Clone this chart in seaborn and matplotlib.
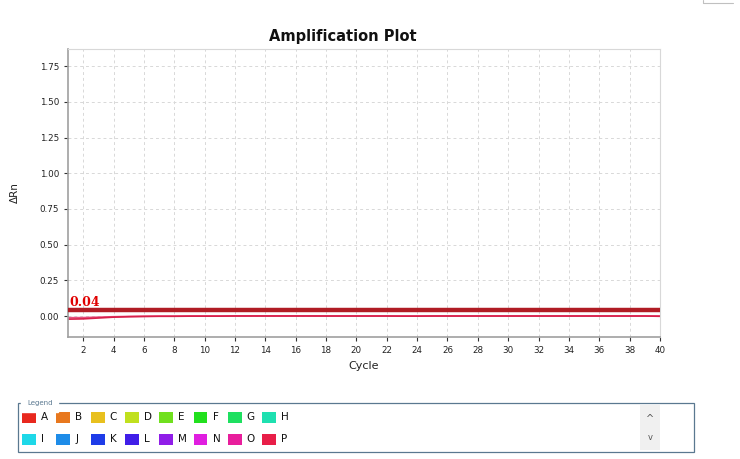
import numpy as np
import pandas as pd
import matplotlib
matplotlib.use("Agg")
import matplotlib.pyplot as plt
from matplotlib.patches import Rectangle
from matplotlib.lines import Line2D
import seaborn as sns

cycles = list(range(1, 41))
well_o = [-0.012, -0.011, -0.008, -0.005, -0.003, -0.002, -0.001, -0.001, 0.000, 0.000,
          0.000, 0.001, 0.001, 0.001, 0.001, 0.001, 0.001, 0.000, 0.000, 0.000,
          0.000, 0.000, 0.000, 0.000, 0.000, 0.000, 0.000, 0.000, 0.000, 0.000,
          0.000, 0.000, 0.000, 0.000, 0.000, 0.000, 0.000, 0.000, 0.000, 0.000]
well_p = [-0.022, -0.020, -0.014, -0.008, -0.005, -0.003, -0.002, -0.002, -0.001, -0.001,
          -0.001, 0.000, 0.000, 0.000, 0.000, 0.000, 0.000, 0.000, 0.000, 0.000,
          0.000, 0.000, -0.001, -0.001, 0.000, 0.000, 0.000, 0.000, 0.000, 0.000,
          0.000, 0.000, 0.000, 0.000, 0.000, 0.000, 0.000, 0.000, 0.000, -0.002]
threshold = 0.04

legend_labels = list("ABCDEFGHIJKLMNOP")
legend_colors = ["#e8281e", "#e8781e", "#e8c01e", "#c0e01e", "#70e01e", "#22e01e",
                 "#1ee060", "#1ee0b0", "#1ed8e8", "#1e8ce8", "#1e3ce8", "#401ee8",
                 "#901ee8", "#e01ee0", "#e81e9c", "#e81e48"]

yticks = [0.00, 0.25, 0.50, 0.75, 1.00, 1.25, 1.50, 1.75]
xticks = list(range(2, 41, 2))

df = pd.DataFrame({
    "Cycle": cycles * 2,
    "dRn": well_o + well_p,
    "Well": ["O"] * len(cycles) + ["P"] * len(cycles),
})

sns.set_style("white")
plt.rcParams["font.family"] = ["DejaVu Sans"]

fig = plt.figure(figsize=(7.4, 4.59), dpi=100)
ax = fig.add_axes([68 / 740, 1 - 337 / 459, (660 - 68) / 740, (337 - 49) / 459])

sns.lineplot(data=df, x="Cycle", y="dRn", hue="Well",
             palette={"O": "#e85080", "P": "#d8204a"}, linewidth=1.2,
             legend=False, ax=ax)
ax.axhline(threshold, color="#b01c24", linewidth=3.2, zorder=5)
ax.text(1.1, threshold + 0.008, f"{threshold:.2f}", color="#e00000",
        fontsize=9, fontweight="bold", family="DejaVu Serif", va="bottom", ha="left")

ax.set_xlim(1, 40)
ax.set_ylim(-0.147, 1.87)
ax.set_xticks(xticks)
ax.set_yticks(yticks)
ax.set_yticklabels([f"{v:.2f}" for v in yticks])
ax.tick_params(axis="both", labelsize=6.3, colors="#333333", length=3, width=0.8,
               direction="out", left=True, bottom=True)
ax.tick_params(axis="both", labelcolor="#222222")
ax.grid(True, which="major", linestyle=(0, (3, 3)), color="#d8d8d8", linewidth=0.7)
ax.set_axisbelow(True)
for side in ["left", "bottom"]:
    ax.spines[side].set_color("#a0a0a0")
    ax.spines[side].set_linewidth(1.2)
for side in ["top", "right"]:
    ax.spines[side].set_color("#d8d8d8")
    ax.spines[side].set_linewidth(0.8)

ax.set_xlabel("Cycle", fontsize=8, color="#222222", labelpad=4)
ax.set_ylabel("ΔRn", fontsize=7.5, color="#222222", labelpad=14)
fig.text(343 / 740, 1 - 36 / 459, "Amplification Plot", ha="center", va="center",
         fontsize=10.5, fontweight="bold", color="#111111")

# Legend panel
W, H = 740, 459
def fx(x):
    return x / W
def fy(y):
    return 1 - y / H

fig.patches.append(Rectangle((fx(18), fy(452)), fx(694) - fx(18), fy(403) - fy(452),
                             transform=fig.transFigure, facecolor="white",
                             edgecolor="#5a7890", linewidth=0.9))
fig.patches.append(Rectangle((fx(640), fy(450)), fx(660) - fx(640), fy(405) - fy(450),
                             transform=fig.transFigure, facecolor="#f0f0f0",
                             edgecolor="none"))
fig.text(fx(650), fy(419), "^", ha="center", va="center", fontsize=7, color="#555555")
fig.text(fx(650), fy(438), "v", ha="center", va="center", fontsize=6, color="#555555")
fig.text(fx(27), fy(403), "Legend", ha="left", va="center", fontsize=5, color="#5a7890",
         backgroundcolor="white")

for i, (lab, col) in enumerate(zip(legend_labels, legend_colors)):
    row, colidx = divmod(i, 8)
    x0 = 22 + colidx * 34.3
    yc = 417 + row * 22
    fig.patches.append(Rectangle((fx(x0), fy(yc + 5.5)), fx(14), 11 / H,
                                 transform=fig.transFigure, facecolor=col,
                                 edgecolor="none"))
    fig.text(fx(x0 + 19), fy(yc), lab, ha="left", va="center", fontsize=7.5,
             color="#111111")

# top-right UI fragment
fig.lines.append(Line2D([fx(703), fx(703), fx(733)], [fy(0), fy(3), fy(3)],
                        transform=fig.transFigure, color="#c0c0c0", linewidth=0.8))

fig.savefig("out.png", dpi=100)
